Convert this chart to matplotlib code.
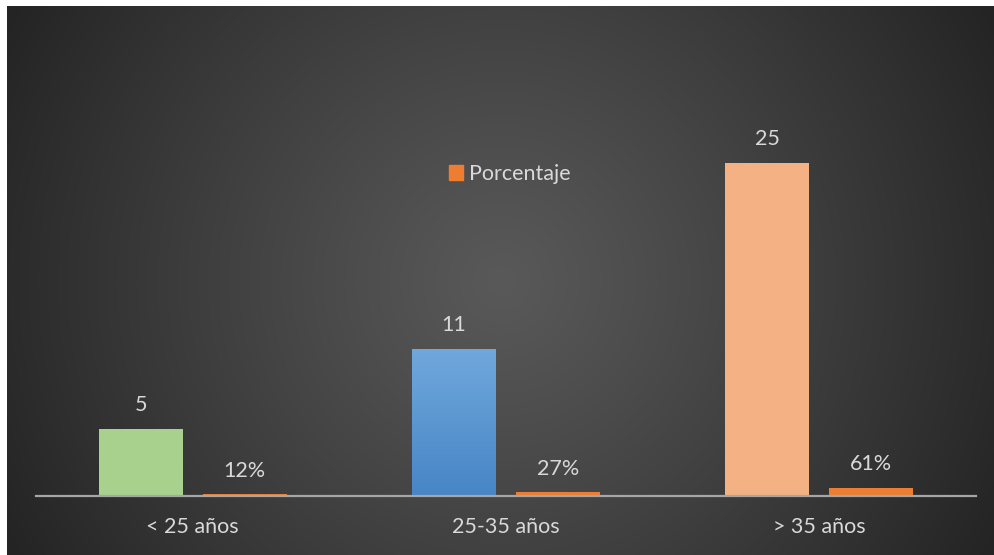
import numpy as np
import matplotlib.pyplot as plt
from matplotlib.patches import Patch

# data
categories = ['< 25 años', '25-35 años', '> 35 años']
counts = [5, 11, 25]
percent = [0.12, 0.27, 0.61]
count_colors = ['#A9D18E', '#5B9BD5', '#F4B183']
pct_color = '#ED7D31'

plt.rcParams['font.family'] = ['Lato', 'DejaVu Sans']
text_col = '#D9D9D9'
fs = 15.5

fig = plt.figure(figsize=(9.95, 5.55), dpi=100)
fig.patch.set_facecolor('white')

# radial gradient background
bg = fig.add_axes([7 / 995, 0, 988 / 995, 549 / 555])
yy, xx = np.mgrid[0:549, 0:988]
r = np.sqrt(((xx - 494) / 560.0) ** 2 + ((yy - 275) / 560.0) ** 2)
r = np.clip(r, 0, 1)
inner = np.array([0x59, 0x59, 0x59]) / 255
outer = np.array([0x24, 0x24, 0x24]) / 255
img = inner + (outer - inner) * r[..., None] ** 1.1
bg.imshow(img, aspect='auto', origin='upper')
bg.axis('off')

ax = fig.add_axes([36 / 995, (555 - 496) / 555, 940 / 995, 400 / 555])
ax.patch.set_alpha(0)

x = np.arange(len(categories))
w = 0.268
off = 0.166
b1 = ax.bar(x - off, counts, w, color=count_colors, zorder=2)
b2 = ax.bar(x + off, percent, w, color=pct_color, zorder=2)

# vertical gradient on the blue bar
blue = b1[1]
grad = np.linspace(0, 1, 100)[:, None]
top = np.array([0x70, 0xA8, 0xDC]) / 255
bot = np.array([0x47, 0x85, 0xC6]) / 255
gimg = top + (bot - top) * grad[..., None]
ax.imshow(gimg, aspect='auto', origin='upper', zorder=3,
          extent=[blue.get_x(), blue.get_x() + blue.get_width(), 0, blue.get_height()])

ax.bar_label(b1, labels=[str(c) for c in counts], padding=10, color=text_col, fontsize=fs)
ax.bar_label(b2, labels=[f'{round(p * 100)}%' for p in percent], padding=10,
             color=text_col, fontsize=fs)

ax.set_xlim(-0.5, 2.5)
ax.set_ylim(0, 30)
ax.set_xticks(x)
ax.set_xticklabels(categories, color=text_col, fontsize=fs)
ax.tick_params(axis='x', length=0, pad=15)
ax.set_yticks([])
for s in ['top', 'right', 'left']:
    ax.spines[s].set_visible(False)
ax.spines['bottom'].set_color('#A6A6A6')
ax.spines['bottom'].set_linewidth(1.6)
ax.spines['bottom'].set_zorder(4)

leg = ax.legend(handles=[Patch(color=pct_color, label='Porcentaje')], loc='center',
                bbox_to_anchor=(0.504, 0.805), frameon=False, fontsize=fs,
                handlelength=0.65, handleheight=0.65, handletextpad=0.3)
for t in leg.get_texts():
    t.set_color(text_col)

fig.savefig('out.png', dpi=100)
